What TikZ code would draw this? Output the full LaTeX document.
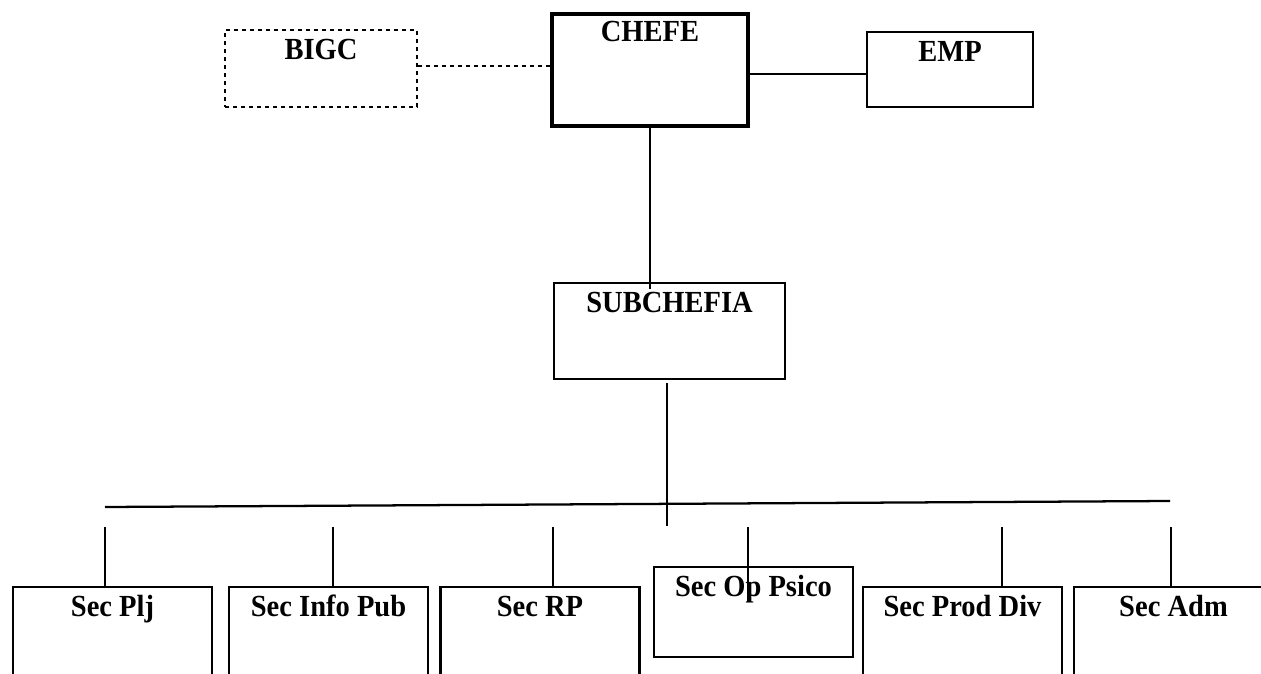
\documentclass[tikz,border=0pt]{standalone}
\usepackage{fontspec}
\setmainfont{Liberation Serif}
\newfontfamily\lblfont[FakeStretch=0.93]{Liberation Serif}
\begin{document}
\begin{tikzpicture}[x=0.75pt,y=-0.75pt,
  box/.style={draw,line width=1.7pt,rectangle,inner sep=0pt},
  secbox/.style={box,minimum width=149.25pt,minimum height=90pt},
  dotbox/.style={box,line width=2.1pt,dash pattern=on 3pt off 3pt},
  lbl/.style={anchor=base,inner sep=0pt,font=\lblfont\bfseries\fontsize{23}{27}\selectfont},
  conn/.style={line width=1.7pt},
  dotconn/.style={line width=2.1pt,dash pattern=on 3pt off 3pt}]
\useasboundingbox (0,0) rectangle (1261,674);
\clip (0,0) rectangle (1261,674);
% top row
\node[dotbox,minimum width=144pt,minimum height=57.75pt] (bigc) at (321,68.5) {};
\node[box,line width=3.4pt,minimum width=147pt,minimum height=84pt] (chefe) at (650,70) {};
\node[box,minimum width=124.5pt,minimum height=56.25pt] (emp) at (950,69.5) {};
\node[box,minimum width=173.25pt,minimum height=72pt] (sub) at (669.5,331) {};
% bottom row
\node[secbox] (plj) at (112.5,647) {};
\node[secbox] (info) at (328.5,647) {};
\node[secbox] (rp) at (540,647) {};
\node[secbox,minimum height=67.5pt] (op) at (753.5,612) {};
\node[secbox] (prod) at (962.5,647) {};
\node[secbox] (adm) at (1173.5,647) {};
% connectors
\draw[dotconn] ([yshift=1.9pt]bigc.east) -- ([yshift=1.9pt]bigc.east -| chefe.west);
\draw[conn] ([yshift=-3pt]chefe.east) -- ([yshift=-3pt]chefe.east -| emp.west);
\draw[conn] (chefe.south) -- ([yshift=-5pt]chefe.south |- sub.north);
\coordinate (bus0) at (105,507);
\coordinate (bus1) at (1170,501);
\coordinate (drop) at (667,526);
\draw[conn] (bus0) -- (bus1);
\draw[conn] ([yshift=-2.5pt]sub.south -| drop) -- (drop);
\coordinate (t1) at (105,527);
\coordinate (t2) at (333,527);
\coordinate (t3) at (553,527);
\coordinate (t4) at (748,527);
\coordinate (t5) at (1002,527);
\coordinate (t6) at (1171,527);
\draw[conn] (t1) -- (t1 |- plj.north);
\draw[conn] (t2) -- (t2 |- info.north);
\draw[conn] (t3) -- (t3 |- rp.north);
\draw[conn] (t4) -- ([yshift=-27pt]t4 |- op.north);
\draw[conn] (t5) -- (t5 |- prod.north);
\draw[conn] (t6) -- (t6 |- adm.north);
% labels
\node[lbl] (bigc-t) at ([yshift=-23pt]bigc.north) {BIGC};
\node[lbl] (chefe-t) at ([yshift=-22.5pt]chefe.north) {CHEFE};
\node[lbl] (emp-t) at ([yshift=-23pt]emp.north) {EMP};
\node[lbl] (sub-t) at ([yshift=-23pt]sub.north) {SUBCHEFIA};
\node[lbl] (plj-t) at ([yshift=-23pt]plj.north) {Sec Plj};
\node[lbl] (info-t) at ([yshift=-23pt]info.north) {Sec Info Pub};
\node[lbl] (rp-t) at ([yshift=-23pt]rp.north) {Sec RP};
\node[lbl] (op-t) at ([yshift=-23pt]op.north) {Sec Op Psico};
\node[lbl] (prod-t) at ([yshift=-23pt]prod.north) {Sec Prod Div};
\node[lbl] (adm-t) at ([yshift=-23pt]adm.north) {Sec Adm};
\end{tikzpicture}
\end{document}
